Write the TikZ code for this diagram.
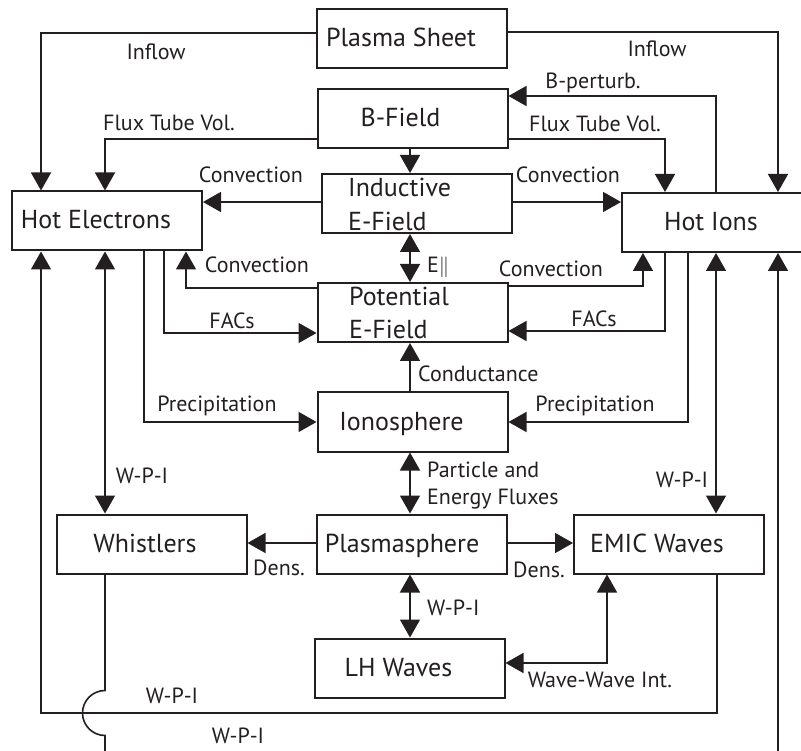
\documentclass[tikz,border=0pt]{standalone}
\usepackage{fontspec}
\setmainfont{PT Sans}
\usetikzlibrary{arrows.meta}
\definecolor{ink}{HTML}{231F20}
\begin{document}
\begin{tikzpicture}[x=1pt,y=-1pt,
  every node/.style={text=ink},
  box/.style={draw=ink, line width=2pt, minimum width=190pt, minimum height=59pt, inner sep=0pt, text height=19pt, text depth=3pt, font=\fontsize{26}{28}\selectfont},
  boxtxt/.style={font=\fontsize{26}{28}\selectfont, inner sep=0pt, anchor=base west},
  lab/.style={font=\fontsize{22}{24}\selectfont, inner sep=0pt, anchor=base},
  labw/.style={lab, anchor=base west},
  conn/.style={draw=ink, line width=1.6pt, -{Triangle[length=18pt,width=20pt]}},
  connb/.style={draw=ink, line width=1.6pt, {Triangle[length=18pt,width=20pt]}-{Triangle[length=18pt,width=20pt]}},
]
\useasboundingbox (0,0) rectangle (801,751);
\clip (0,0) rectangle (801,751);

% boxes
\node[box] (ps) at (412,38.5) {\hspace*{-22pt}Plasma Sheet};
\node[box] (bf) at (412.5,118.5) {\hspace*{-24pt}B-Field};
\node[box] (ie) at (417,203.5) {};
\node[boxtxt] (ietxt1) at (348,197) {Inductive};
\node[boxtxt] (ietxt2) at (348,231) {E-Field};
\node[box] (he) at (107,221) {\hspace*{-22pt}Hot Electrons};
\node[box] (hi) at (717,222.5) {\hspace*{-12pt}Hot Ions};
\node[box] (pe) at (412.5,312.5) {};
\node[boxtxt] (petxt1) at (349,306) {Potential};
\node[boxtxt] (petxt2) at (349,339) {E-Field};
\node[box] (io) at (412.5,422) {\hspace*{-22pt}Ionosphere};
\node[box] (pl) at (412,544) {\hspace*{-20pt}Plasmasphere};
\node[box] (wh) at (151.5,544) {\hspace*{-13pt}Whistlers};
\node[box] (em) at (669,544) {\hspace*{-24pt}EMIC Waves};
\node[box] (lh) at (409.5,668) {\hspace*{-22pt}LH Waves};

% top connectors
\draw[conn] (ps.west |- 0,33) -| (he.north -| 41,0);
\node[lab] (l1) at (156,59.5) {Inflow};
\draw[conn] (ps.east |- 0,32) -| (hi.north -| 778,0);
\node[lab] (l2) at (657,57) {Inflow};
\draw[conn] (bf.west |- 0,139) -| (he.north -| 105,0);
\node[lab] (l3) at (169,131) {Flux Tube Vol.};
\draw[conn] (bf.east |- 0,139) -| (hi.north -| 665,0);
\node[lab] (l4) at (595,132) {Flux Tube Vol.};
\draw[conn] (hi.north -| 716,0) |- (bf.east |- 0,96);
\node[lab] (l5) at (593,89) {B-perturb.};
\draw[conn] (bf.south -| 410,0) -- (ie.north -| 410,0);
\draw[conn] (ie.west |- 0,202) -- (he.east |- 0,202);
\node[lab] (l6) at (251,182.5) {Convection};
\draw[conn] (ie.east |- 0,202) -- (hi.west |- 0,202);
\node[lab] (l7) at (568,182.5) {Convection};
\draw[connb] (ie.south -| 410,0) -- (pe.north -| 410,0);
\node[labw] (l8) at (427,273) {E$\|$};

% middle connectors
\draw[conn] (pe.west |- 0,288) -| (he.south -| 186,0);
\node[lab] (l9) at (257,273) {Convection};
\draw[conn] (he.south -| 164,0) |- (pe.west |- 0,333);
\node[lab] (l10) at (232,329) {FACs};
\draw[conn] (he.south -| 144,0) |- (io.west);
\node[lab] (l11) at (217,412) {Precipitation};
\draw[conn] (pe.east |- 0,286) -| (hi.south -| 643,0);
\node[lab] (l12) at (551,277) {Convection};
\draw[conn] (hi.south -| 665,0) |- (pe.east |- 0,331);
\node[lab] (l13) at (594,327) {FACs};
\draw[conn] (hi.south -| 688,0) |- (io.east);
\node[lab] (l14) at (595,412) {Precipitation};
\draw[conn] (io.north -| 410,0) -- (pe.south -| 410,0);
\node[labw] (l15) at (418,382) {Conductance};
\draw[connb] (io.south -| 410,0) -- (pl.north -| 410,0);
\node[labw] (l16) at (427,477) {Particle and};
\node[labw] (l17) at (427,504) {Energy Fluxes};

% lower connectors
\draw[conn] (pl.west |- 0,543) -- (wh.east |- 0,543);
\node[lab] (l18) at (279,575) {Dens.};
\draw[conn] (pl.east |- 0,543) -- (em.west |- 0,543);
\node[lab] (l19) at (539,577) {Dens.};
\draw[connb] (he.south -| 105,0) -- (wh.north -| 105,0);
\node[lab] (l20) at (142,483) {W-P-I};
\draw[connb] (hi.south -| 716,0) -- (em.north -| 716,0);
\node[lab] (l21) at (682,487) {W-P-I};
\draw[connb] (pl.south -| 410,0) -- (lh.north -| 410,0);
\node[labw] (l22) at (427,615) {W-P-I};
\draw[connb] (lh.east |- 0,663) -| (em.south -| 607,0);
\node[lab] (l23) at (600,687) {Wave-Wave Int.};

% outer loops
\draw[conn] (em.south -| 717,0) |- (41,713) -- (he.south -| 41,0);
\node[lab] (l24) at (172,703) {W-P-I};
\draw[conn] (wh.south -| 105,0) -- (105,690.5) arc (270:90:22.5) -- (105,770) -| (hi.south -| 778,0);
\node[lab] (l25) at (238,743) {W-P-I};
\end{tikzpicture}
\end{document}
